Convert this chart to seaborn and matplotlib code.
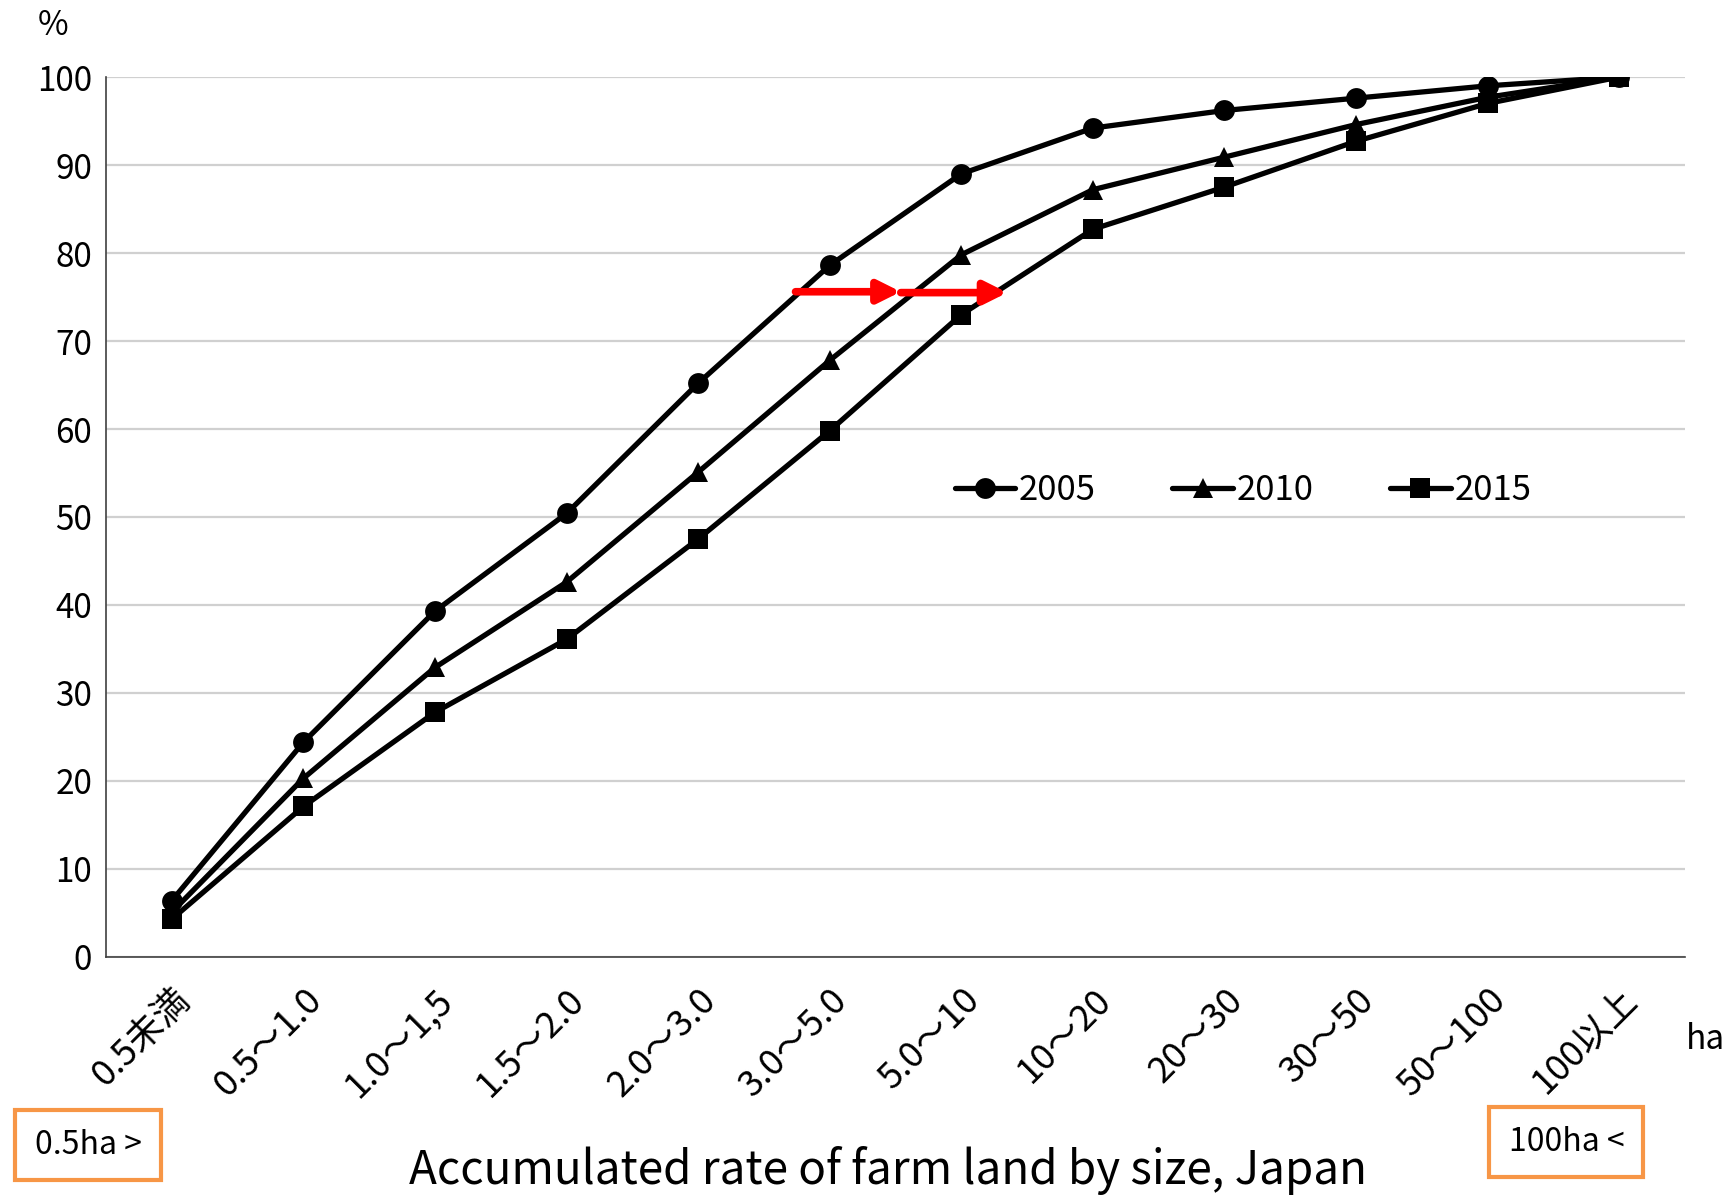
import matplotlib
matplotlib.use("Agg")
import matplotlib.pyplot as plt
import seaborn as sns
import pandas as pd
from matplotlib.lines import Line2D

categories = ["0.5未満", "0.5～1.0", "1.0～1,5", "1.5～2.0", "2.0～3.0", "3.0～5.0",
              "5.0～10", "10～20", "20～30", "30～50", "50～100", "100以上"]
v2005 = [6.4, 24.4, 39.3, 50.4, 65.2, 78.6, 89.0, 94.2, 96.2, 97.6, 99.0, 100.0]
v2010 = [5.1, 20.3, 32.9, 42.6, 55.1, 67.8, 79.8, 87.2, 90.9, 94.6, 97.7, 100.0]
v2015 = [4.3, 17.1, 27.8, 36.1, 47.5, 59.8, 73.0, 82.7, 87.5, 92.7, 97.0, 100.0]
years = ["2005", "2010", "2015"]
yticks = [0, 10, 20, 30, 40, 50, 60, 70, 80, 90, 100]
# red arrows (category-index units, value)
arrow_x_start = [4.74, 5.54]
arrow_x_end = [5.54, 6.35]
arrow_y = [75.6, 75.5]

sns.set_theme(style="white")
plt.rcParams['font.family'] = ['Noto Sans CJK JP', 'DejaVu Sans']
plt.rcParams['text.color'] = 'black'
plt.rcParams['xtick.color'] = 'black'
plt.rcParams['ytick.color'] = 'black'

rows = []
for yr, vals in zip(years, [v2005, v2010, v2015]):
    for c, v in zip(categories, vals):
        rows.append({"size": c, "rate": v, "year": yr})
df = pd.DataFrame(rows)

fig = plt.figure(figsize=(17.27, 11.98), dpi=100)
ax = fig.add_axes([0.0614, 0.2012, 0.9143, 0.7345])

markers = {"2005": "o", "2010": "^", "2015": "s"}
palette = {"2005": "black", "2010": "black", "2015": "black"}
lw = 3.8
ms = 15
sns.lineplot(data=df, x="size", y="rate", hue="year", style="year",
             markers=markers, dashes=False, palette=palette,
             linewidth=lw, markersize=ms, markeredgewidth=0, ax=ax,
             legend=False, sort=False)

ax.set_xlim(-0.5, len(categories) - 0.5)
ax.set_ylim(0, 100)
ax.set_yticks(yticks)
ax.set_yticklabels([str(t) for t in yticks], fontsize=24)
ax.set_xticks(range(len(categories)))
ax.set_xticklabels(categories, fontsize=26, rotation=45, ha="right",
                   rotation_mode="anchor")
ax.tick_params(axis="y", length=0, pad=10)
ax.tick_params(axis="x", length=0, pad=18)
ax.set_xlabel("")
ax.set_ylabel("")
ax.grid(axis="y", color="#D0D0D0", linewidth=1.6)
ax.set_axisbelow(True)
for s in ["top", "right"]:
    ax.spines[s].set_visible(False)
ax.spines["left"].set_color("#404040")
ax.spines["left"].set_linewidth(1.2)
ax.spines["bottom"].set_color("#404040")
ax.spines["bottom"].set_linewidth(1.2)

for xs, xe, yv in zip(arrow_x_start, arrow_x_end, arrow_y):
    ax.annotate("", xy=(xe, yv), xytext=(xs, yv),
                arrowprops=dict(arrowstyle="-|>,head_length=1.1,head_width=0.55",
                                color="#FF0000", lw=5.5, shrinkA=0, shrinkB=0))

handles = [Line2D([0], [0], color="black", lw=lw, marker=markers[y], markersize=ms,
                  markeredgewidth=0) for y in years]
ax.legend(handles, years, loc="center", bbox_to_anchor=(0.72, 0.53), ncol=3,
          frameon=False, fontsize=25, handlelength=1.75, handletextpad=0.1,
          columnspacing=2.2)

fig.text(0.031, 0.979, "%", fontsize=24, ha="center", va="center")
fig.text(0.999, 0.132, "ha", fontsize=24, ha="right", va="center")
fig.text(0.514, 0.023, "Accumulated rate of farm land by size, Japan",
         fontsize=33, ha="center", va="center")

box = dict(boxstyle="square,pad=0.6", facecolor="white", edgecolor="#F79646", linewidth=3)
fig.text(0.051, 0.0445, "0.5ha >", fontsize=23, ha="center", va="center", bbox=box)
fig.text(0.907, 0.0465, "100ha <", fontsize=23, ha="center", va="center", bbox=box)

fig.savefig("out.png", dpi=100)
